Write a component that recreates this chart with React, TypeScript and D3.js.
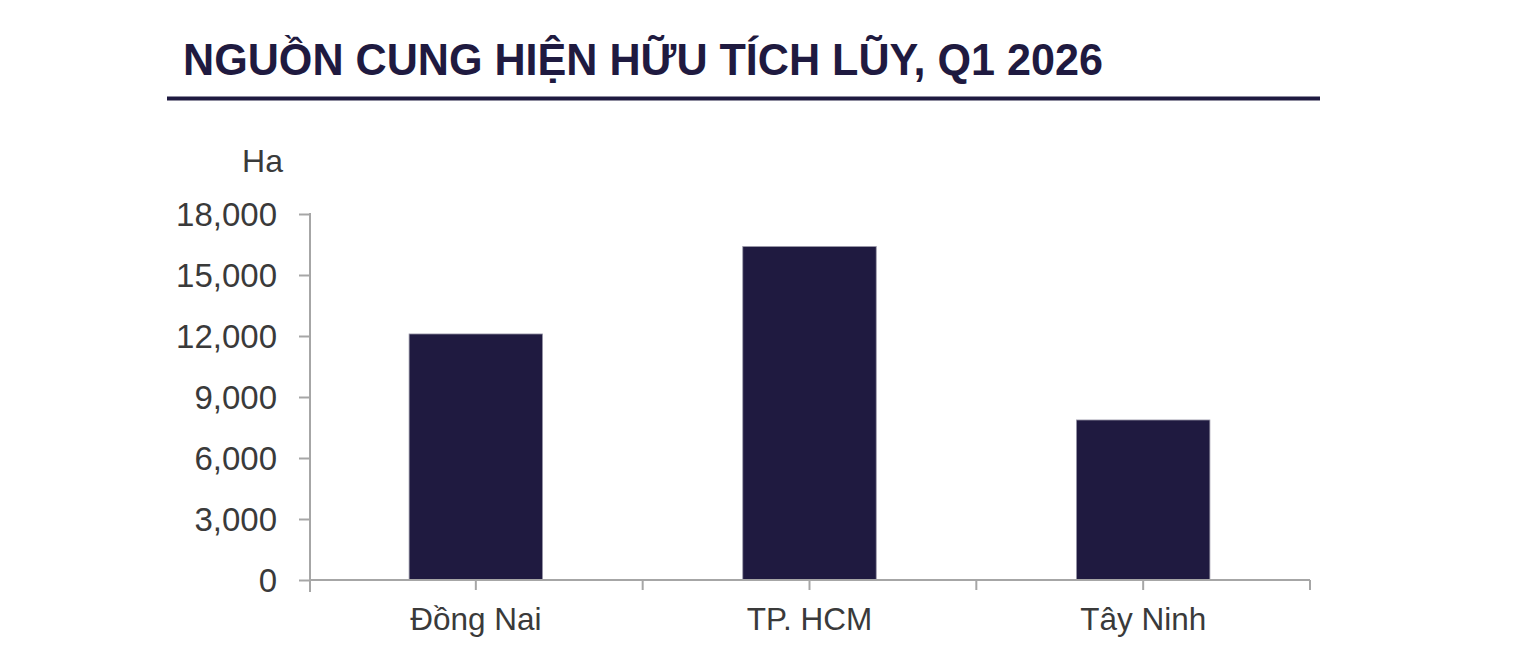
import React, { useEffect, useRef } from 'react';
import * as d3 from 'd3';

const categories = ['Đồng Nai', 'TP. HCM', 'Tây Ninh'];
const values = [12100, 16400, 7870];
const yTicks = [0, 3000, 6000, 9000, 12000, 15000, 18000];
const title = 'NGUỒN CUNG HIỆN HỮU TÍCH LŨY, Q1 2026';
const unitLabel = 'Ha';

const NAVY = '#1f1a40';
const AXIS = '#a6a6a6';
const TEXT = '#3a3a3a';
const FONT = "'Liberation Sans', Arial, sans-serif";

export default function App() {
  const svgRef = useRef<SVGSVGElement>(null);

  useEffect(() => {
    if (!svgRef.current) return;
    const width = 1538;
    const height = 671;
    const margin = { top: 214, right: 228, bottom: 91, left: 310 };

    const svg = d3.select(svgRef.current);
    svg.selectAll('*').remove();

    // Title and the rule under it
    svg.append('text')
      .attr('x', 183)
      .attr('y', 75)
      .attr('textLength', 920)
      .attr('lengthAdjust', 'spacingAndGlyphs')
      .style('font-family', FONT)
      .style('font-weight', 'bold')
      .style('font-size', '44px')
      .style('fill', NAVY)
      .text(title);

    svg.append('line')
      .attr('x1', 167)
      .attr('x2', 1320)
      .attr('y1', 98.5)
      .attr('y2', 98.5)
      .attr('stroke', NAVY)
      .attr('stroke-width', 4);

    const x = d3.scaleBand()
      .domain(categories)
      .range([margin.left - 1, width - margin.right])
      .paddingInner(0.6)
      .paddingOuter(0.3);

    const y = d3.scaleLinear()
      .domain([0, 18000])
      .range([height - margin.bottom, margin.top]);

    // Bars
    svg.selectAll('rect.bar')
      .data(categories)
      .enter()
      .append('rect')
      .attr('class', 'bar')
      .attr('x', d => x(d)!)
      .attr('y', (d, i) => y(values[i]))
      .attr('width', x.bandwidth())
      .attr('height', (d, i) => y(0) - y(values[i]))
      .attr('fill', NAVY)
      .attr('stroke', '#9a98a8')
      .attr('stroke-width', 0.8);

    // Y axis
    const yAxis = svg.append('g')
      .attr('transform', `translate(${margin.left},0)`)
      .call(d3.axisLeft(y).tickValues(yTicks).tickSize(11).tickPadding(22)
        .tickFormat(d => d3.format(',')(d as number)));
    yAxis.select('.domain').remove();
    yAxis.selectAll('.tick line').attr('stroke', AXIS).attr('stroke-width', 2);
    yAxis.selectAll('text')
      .style('font-family', FONT)
      .style('font-size', '33px')
      .style('fill', TEXT)
      .attr('dy', '0.36em');
    yAxis.append('line')
      .attr('x1', 0).attr('x2', 0)
      .attr('y1', y(18000) - 1).attr('y2', y(0) + 12)
      .attr('stroke', AXIS).attr('stroke-width', 2);

    // X axis: ticks at band edges and centres
    const x0 = x.range()[0];
    const step = x.step();
    const xTickPos = d3.range(0, categories.length * 2 + 1).map(k => x0 + (k * step) / 2);
    const xAxis = svg.append('g').attr('transform', `translate(0,${y(0)})`);
    xAxis.append('line')
      .attr('x1', x0).attr('x2', x.range()[1])
      .attr('stroke', AXIS).attr('stroke-width', 2);
    xAxis.selectAll('line.tick')
      .data(xTickPos.slice(1))
      .enter()
      .append('line')
      .attr('class', 'tick')
      .attr('x1', d => d).attr('x2', d => d)
      .attr('y1', 0).attr('y2', 10)
      .attr('stroke', AXIS).attr('stroke-width', 2);
    xAxis.selectAll('text')
      .data(categories)
      .enter()
      .append('text')
      .attr('x', d => x(d)! + x.bandwidth() / 2)
      .attr('y', 50)
      .attr('text-anchor', 'middle')
      .style('font-family', FONT)
      .style('font-size', '31.5px')
      .style('fill', TEXT)
      .text(d => d);

    // Unit label
    svg.append('text')
      .attr('x', 283)
      .attr('y', 172)
      .attr('text-anchor', 'end')
      .style('font-family', FONT)
      .style('font-size', '32px')
      .style('fill', TEXT)
      .text(unitLabel);
  }, []);

  return (
    <svg
      ref={svgRef}
      width={1538}
      height={671}
      style={{ position: 'absolute', left: 0, top: 0, background: '#fff' }}
    />
  );
}
